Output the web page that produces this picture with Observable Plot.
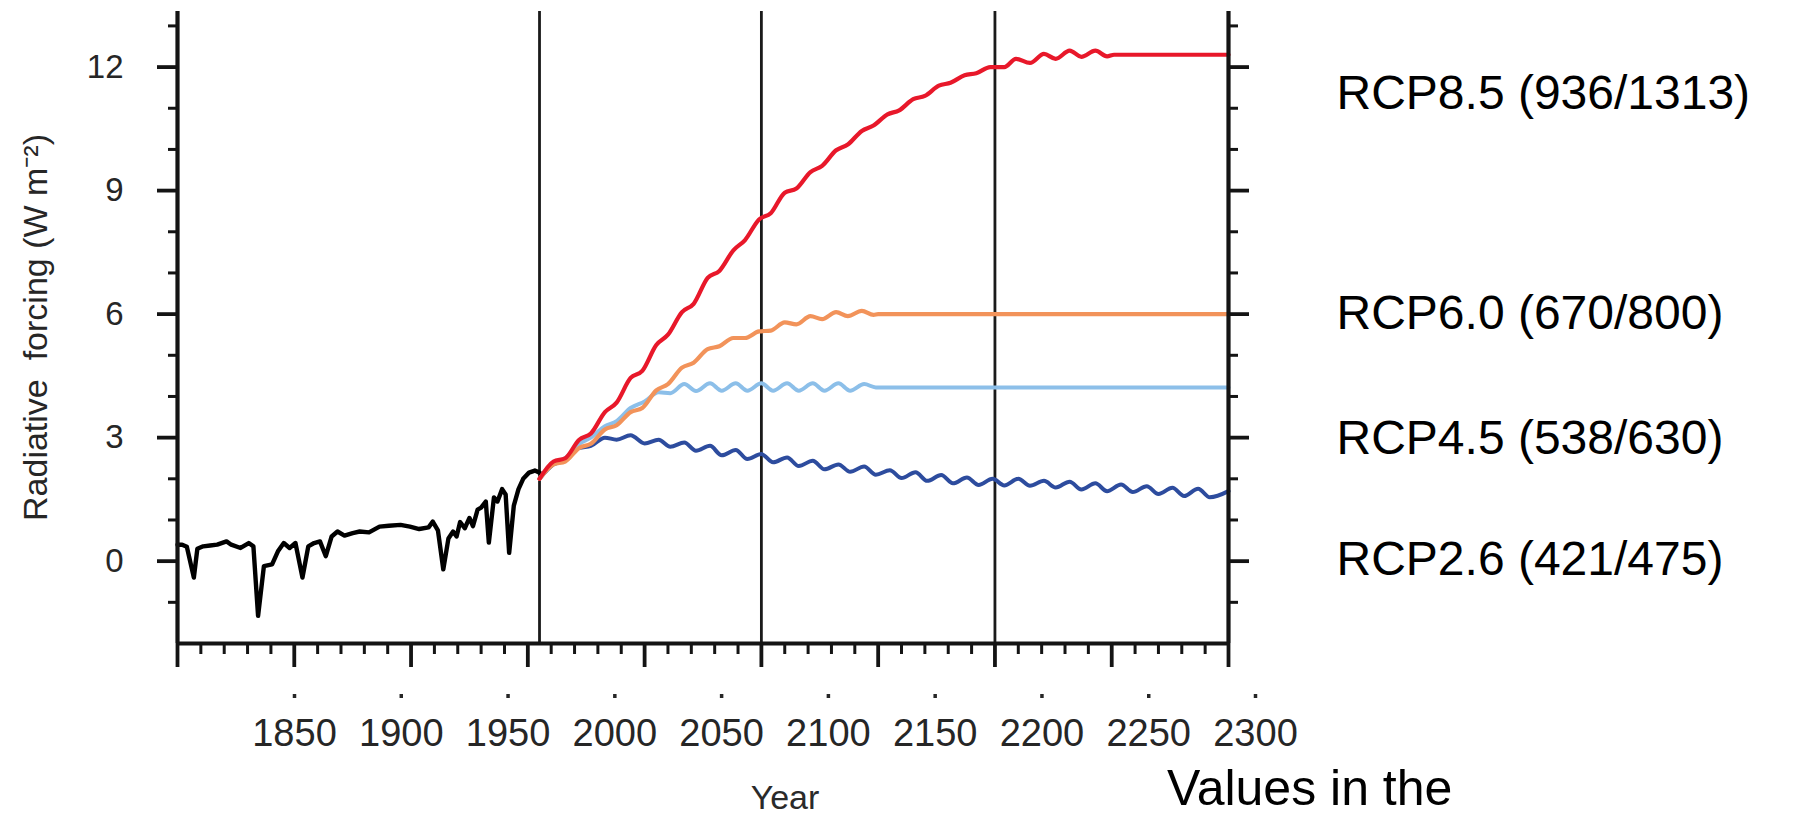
<!DOCTYPE html>
<html><head><meta charset="utf-8">
<script src="https://cdn.jsdelivr.net/npm/d3@7"></script>
<script src="https://cdn.jsdelivr.net/npm/@observablehq/plot@0.6"></script>
<style>
html,body{margin:0;padding:0;background:#fff;}
#wrap{position:relative;width:1794px;height:817px;overflow:hidden;font-family:"Liberation Sans",Arial,sans-serif;}
#main{position:absolute;left:0;top:0;}
#strip{position:absolute;left:0;top:680px;}
#note{position:absolute;left:1167px;top:763px;font-size:50px;line-height:1;color:#000;white-space:nowrap;}
</style></head><body>
<div id="wrap"><div id="main"></div><div id="strip"></div><div id="note">Values in the</div></div>
<script>
// ---- historical forcing (black) ----
const histYears  = [1850,1852,1854,1857,1858.5,1861,1864,1867,1871,1873,1877,1880.5,1882.5,1884.5,1887,1890.5,1893,1895.5,1898,1900.5,1903.5,1906,1908.5,1911,1913.5,1916,1918.5,1921.5,1925,1928,1932,1936.5,1940.5,1945.5,1949.5,1953.5,1957.5,1959.3,1961.5,1963.8,1966,1968,1969.5,1971,1973,1975,1976.5,1978.5,1980,1982,1983.3,1985.5,1987,1989,1990.5,1992,1994,1996,1998,2000.5,2003,2005];
const histValues = [0.40,0.40,0.35,-0.40,0.30,0.36,0.38,0.40,0.48,0.40,0.32,0.44,0.36,-1.33,-0.12,-0.08,0.24,0.44,0.32,0.44,-0.40,0.36,0.44,0.48,0.12,0.60,0.72,0.62,0.68,0.72,0.70,0.84,0.86,0.88,0.84,0.78,0.82,0.96,0.75,-0.20,0.55,0.72,0.60,0.95,0.80,1.05,0.85,1.25,1.30,1.45,0.45,1.55,1.45,1.75,1.62,0.20,1.35,1.75,2.00,2.15,2.20,2.15];

// ---- RCP scenarios ----
const rcp85Years  = [2005,2011,2016,2022,2027,2033,2038,2044,2049,2055,2060,2066,2071,2077,2082,2088,2093,2099,2104,2110,2115,2121,2126,2132,2137,2143,2148,2154,2159,2165,2170,2176,2181,2187,2192,2198,2204,2209,2215,2221,2226,2232,2237,2243,2248,2251,2300];
const rcp85Values = [2.00,2.42,2.50,2.95,3.10,3.62,3.85,4.45,4.62,5.25,5.50,6.05,6.25,6.88,7.05,7.55,7.80,8.30,8.45,8.95,9.05,9.45,9.60,9.98,10.12,10.45,10.58,10.85,10.95,11.22,11.30,11.55,11.62,11.80,11.85,12.00,12.00,12.20,12.10,12.32,12.20,12.40,12.25,12.40,12.26,12.30,12.30];

const rcp60Years  = [2005,2011,2016,2022,2027,2033,2038,2044,2049,2055,2060,2066,2071,2077,2082,2088,2093,2099,2104,2110,2115,2121,2126,2132,2137,2143,2148,2150,2300];
const rcp60Values = [2.00,2.35,2.42,2.75,2.85,3.20,3.30,3.62,3.72,4.15,4.30,4.70,4.82,5.15,5.22,5.42,5.42,5.58,5.60,5.80,5.75,5.95,5.88,6.05,5.95,6.08,5.98,6.00,6.00];

const rcp45Years  = [2005,2011,2016,2022,2027,2033,2038,2044,2050,2056,2061,2067,2072,2078,2083,2089,2094,2100,2105,2111,2116,2122,2127,2133,2138,2144,2149,2300];
const rcp45Values = [2.00,2.38,2.50,2.85,3.00,3.28,3.40,3.72,3.88,4.10,4.08,4.30,4.13,4.32,4.14,4.32,4.14,4.32,4.14,4.32,4.14,4.32,4.14,4.32,4.14,4.30,4.22,4.22];

const rcp26Years  = [2005,2011,2016,2022,2027,2033,2038,2044,2050,2056,2061,2067,2072,2078,2083,2089,2094,2100,2105,2111,2116,2122,2127,2133,2138,2144,2149,2155,2160,2166,2171,2177,2182,2188,2193,2199,2204,2210,2215,2221,2226,2232,2237,2243,2248,2254,2259,2265,2270,2276,2281,2287,2292,2300];
const rcp26Values = [2.00,2.35,2.45,2.75,2.80,3.00,2.95,3.06,2.86,2.95,2.78,2.88,2.68,2.80,2.57,2.70,2.48,2.60,2.40,2.52,2.31,2.44,2.23,2.35,2.17,2.30,2.10,2.21,2.02,2.16,1.95,2.09,1.89,2.03,1.85,2.00,1.84,2.00,1.83,1.95,1.79,1.93,1.74,1.89,1.70,1.86,1.68,1.82,1.63,1.78,1.58,1.76,1.55,1.70];

const seriesNames  = ["RCP8.5 (936/1313)","RCP6.0 (670/800)","RCP4.5 (538/630)","RCP2.6 (421/475)"];
const seriesColors = ["#e8182a","#f2935a","#8cbfe9","#2d4c9e"];
const labelY       = [11.35, 6.0, 2.97, 0.03];

const separatorYears = [2005, 2100, 2200];
const xMajorTicks = [1850,1900,1950,2000,2050,2100,2150,2200,2250,2300];
const xMinorTicks = [1860,1870,1880,1890,1910,1920,1930,1940,1960,1970,1980,1990,2010,2020,2030,2040,2060,2070,2080,2090,2110,2120,2130,2140,2160,2170,2180,2190,2210,2220,2230,2240,2260,2270,2280,2290];
const yMajorTicks = [0,3,6,9,12];
const yMinorTicks = [-1,1,2,4,5,7,8,10,11,13];
const stripTickLabels = ["1850","1900","1950","2000","2050","2100","2150","2200","2250","2300"];
const yTitle = "Radiative\u00a0 forcing (W m\u207b\u00b2)";
const xTitle = "Year";

// ---- build tables ----
const toRows = (ys, vs) => ys.map((year, i) => ({year, value: vs[i]}));
const hist = toRows(histYears, histValues);
const rcps = [toRows(rcp85Years, rcp85Values), toRows(rcp60Years, rcp60Values), toRows(rcp45Years, rcp45Values), toRows(rcp26Years, rcp26Values)];
const labels = seriesNames.map((name, i) => ({name, y: labelY[i]}));
const font = "'Liberation Sans', Arial, Helvetica, sans-serif";
const noText = () => "";
const ink = "#141414";

const main = Plot.plot({
  width: 1794, height: 667,
  marginLeft: 177, marginRight: 566, marginTop: 11, marginBottom: 24,
  x: {domain: [1850, 2300]},
  y: {domain: [-2, 13.35]},
  style: {fontFamily: font, color: "#262626", background: "transparent", overflow: "visible"},
  marks: [
    Plot.ruleX(separatorYears, {stroke: "#1a1a1a", strokeWidth: 2.8}),
    Plot.line(hist, {x: "year", y: "value", stroke: "#000", strokeWidth: 4.4, strokeLinejoin: "round"}),
    Plot.line(rcps[3], {x: "year", y: "value", stroke: seriesColors[3], strokeWidth: 4, curve: "monotone-x"}),
    Plot.line(rcps[2], {x: "year", y: "value", stroke: seriesColors[2], strokeWidth: 4, curve: "monotone-x"}),
    Plot.line(rcps[1], {x: "year", y: "value", stroke: seriesColors[1], strokeWidth: 4.2, curve: "monotone-x"}),
    Plot.line(rcps[0], {x: "year", y: "value", stroke: seriesColors[0], strokeWidth: 4.2, curve: "monotone-x"}),
    // frame (left, right, bottom)
    Plot.ruleX([1850, 2300], {stroke: ink, strokeWidth: 4.2}),
    Plot.ruleY([-2], {stroke: ink, strokeWidth: 4.2}),
    // axes
    Plot.axisX({ticks: xMajorTicks, tickSize: 24, strokeWidth: 3.8, stroke: ink, tickFormat: noText, label: null}),
    Plot.axisX({ticks: xMinorTicks, tickSize: 11, strokeWidth: 3, stroke: ink, tickFormat: noText, label: null}),
    Plot.axisY({anchor: "left", ticks: yMajorTicks, tickSize: 20, strokeWidth: 3.8, stroke: ink, tickPadding: 34, fontSize: 33, label: null}),
    Plot.axisY({anchor: "left", ticks: [], tickSize: 0, tickFormat: noText, fontSize: 34,
      label: yTitle, labelAnchor: "center", labelArrow: "none", labelOffset: 155}),
    Plot.axisY({anchor: "left", ticks: yMinorTicks, tickSize: 9, strokeWidth: 3, stroke: ink, tickFormat: noText, label: null}),
    Plot.axisY({anchor: "right", ticks: yMajorTicks, tickSize: 20, strokeWidth: 3.8, stroke: ink, tickFormat: noText, label: null}),
    Plot.axisY({anchor: "right", ticks: yMinorTicks, tickSize: 9, strokeWidth: 3, stroke: ink, tickFormat: noText, label: null}),
    // scenario labels to the right of the frame
    Plot.text(labels, {y: "y", text: "name", frameAnchor: "right", dx: 108, textAnchor: "start", fontSize: 48, fill: "#000", fontFamily: font})
  ]
});
document.getElementById("main").appendChild(main);

// detached year-label strip (offset from the plot's own ticks, as in the source image)
const strip = Plot.plot({
  width: 1794, height: 137,
  marginLeft: 294, marginRight: 539, marginTop: 0, marginBottom: 123,
  x: {domain: [1850, 2300]},
  style: {fontFamily: font, color: "#262626", background: "transparent", overflow: "visible"},
  marks: [
    Plot.axisX({ticks: xMajorTicks, tickSize: 4, strokeWidth: 3.5, tickPadding: 21, fontSize: 38,
      tickFormat: (d, i) => stripTickLabels[i], label: null}),
    Plot.text([xTitle], {frameAnchor: "bottom", dx: 10, dy: 104, lineAnchor: "middle", fontSize: 34, fill: "#2a2a2a"})
  ]
});
document.getElementById("strip").appendChild(strip);
</script>
</body></html>
